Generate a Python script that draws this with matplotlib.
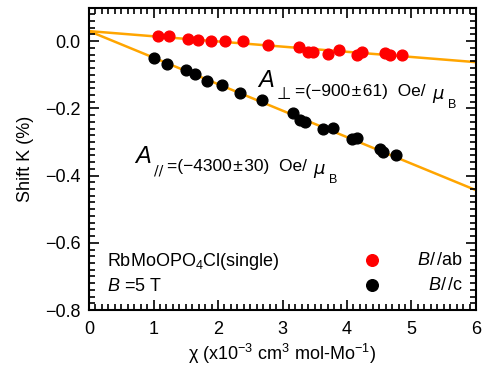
import numpy as np
import matplotlib.pyplot as plt
from matplotlib.ticker import MultipleLocator

plt.rcParams['font.family'] = ['Liberation Sans', 'DejaVu Sans']
plt.rcParams['mathtext.fontset'] = 'custom'
plt.rcParams['mathtext.rm'] = 'Liberation Sans'
plt.rcParams['mathtext.it'] = 'Liberation Sans:italic'

# B//ab data
chi_ab = [1.07, 1.245, 1.54, 1.69, 1.89, 2.11, 2.39, 2.78, 3.25, 3.40, 3.48,
          3.71, 3.87, 4.15, 4.23, 4.59, 4.67, 4.85]
k_ab = [0.015, 0.015, 0.007, 0.003, 0.002, 0.0, 0.0, -0.010, -0.017, -0.033, -0.033,
        -0.037, -0.025, -0.040, -0.032, -0.035, -0.042, -0.041]

# B//c data
chi_c = [1.008, 1.205, 1.504, 1.643, 1.825, 2.067, 2.341, 2.687, 3.167, 3.271, 3.349,
         3.633, 3.778, 4.073, 4.150, 4.512, 4.563, 4.760]
k_c = [-0.050, -0.067, -0.087, -0.097, -0.118, -0.131, -0.154, -0.176, -0.213, -0.235, -0.240,
       -0.260, -0.258, -0.292, -0.289, -0.322, -0.329, -0.339]

# linear fits (intercept, slope)
fit_ab = [0.030, -0.0154]
fit_c = [0.030, -0.0789]

fig = plt.figure(figsize=(4.87, 3.79), dpi=100)
ax = fig.add_axes([0.1828, 0.182, 0.7946, 0.798])

xx = np.array([0, 6])
ax.plot(xx, fit_ab[0] + fit_ab[1] * xx, color='#ffa500', lw=1.8, zorder=1)
ax.plot(xx, fit_c[0] + fit_c[1] * xx, color='#ffa500', lw=1.8, zorder=1)
ax.scatter(chi_ab, k_ab, s=60, color='#ff0000', zorder=2)
ax.scatter(chi_c, k_c, s=60, color='black', zorder=2)

ax.set_xlim(0, 6)
ax.set_ylim(-0.8, 0.1)
ax.xaxis.set_major_locator(MultipleLocator(1))
ax.xaxis.set_minor_locator(MultipleLocator(0.1))
ax.yaxis.set_major_locator(MultipleLocator(0.2))
ax.yaxis.set_minor_locator(MultipleLocator(0.02))
ax.tick_params(which='both', direction='in', top=True, right=True, labelsize=13, width=1.2)
ax.tick_params(which='major', length=7, pad=6)
ax.tick_params(axis='x', which='major', pad=8)
ax.tick_params(which='minor', length=4)
ax.yaxis.set_major_formatter(plt.FuncFormatter(lambda v, p: f'{v:.1f}'.replace('-', '\u2212')))
for s in ax.spines.values():
    s.set_linewidth(1.5)

ax.set_ylabel('Shift K (%)', fontsize=13, labelpad=8)
ax.set_xlabel(r'χ (x10$^{\mathregular{-3}}$ cm$^{\mathregular{3}}$ mol-Mo$^{\mathregular{-1}}$)', fontsize=13, labelpad=3)


def hyperfine(x, y, sub, value, subsize):
    # A with subscript, value, then mu_B, chained left to right
    t1 = ax.text(x, y, 'A', fontsize=17, style='italic', va='baseline')
    t2 = ax.annotate(sub, xy=(1, 0), xycoords=t1, xytext=(2, -5), textcoords='offset points',
                     fontsize=subsize, va='baseline', family=['DejaVu Sans'])
    t3 = ax.annotate('=(' + value + ')  Oe/ ', xy=(1, 0), xycoords=t2, xytext=(3, 5),
                     textcoords='offset points', fontsize=12.5, va='baseline')
    t4 = ax.annotate('μ', xy=(1, 0), xycoords=t3, xytext=(1, 0), textcoords='offset points',
                     fontsize=13, style='italic', va='baseline', family=['DejaVu Sans'])
    ax.annotate('B', xy=(1, 0), xycoords=t4, xytext=(3, -4), textcoords='offset points',
                fontsize=9, va='baseline')


hyperfine(2.62, -0.136, '⊥', '\u2212900\u200a±\u200a61', 12)
hyperfine(0.72, -0.362, '//', '\u22124300\u200a±\u200a30', 10)

ax.text(0.28, -0.655, r'RbMoOPO$_{\mathregular{4}}$Cl(single)', fontsize=13, va='center')
ax.text(0.28, -0.73, r'$\mathit{B}$ =5 T', fontsize=13, va='center')

ax.scatter([4.38], [-0.652], s=70, color='#ff0000')
ax.scatter([4.38], [-0.727], s=70, color='black')
ax.text(5.8, -0.652, r'$\mathit{B}$/$\,$/ab', fontsize=13, va='center', ha='right')
ax.text(5.8, -0.727, r'$\mathit{B}$/$\,$/c', fontsize=13, va='center', ha='right')

fig.savefig('out.png', dpi=100)
